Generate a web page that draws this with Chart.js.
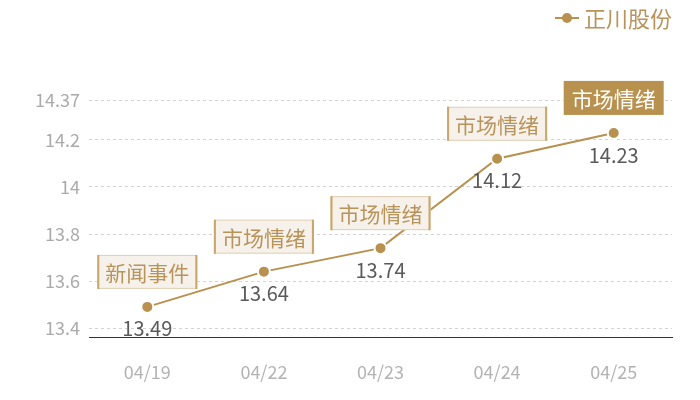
<!DOCTYPE html>
<html>
<head>
<meta charset="utf-8">
<script src="https://cdn.jsdelivr.net/npm/chart.js@4/dist/chart.umd.min.js"></script>
<style>
  html, body { margin: 0; padding: 0; background: #fff; }
  #wrap { width: 700px; height: 400px; }
</style>
</head>
<body>
<div id="wrap"><canvas id="c"></canvas></div>
<script>
const dates = ['04/19', '04/22', '04/23', '04/24', '04/25'];
const prices = [13.49, 13.64, 13.74, 14.12, 14.23];
const tags = ['新闻事件', '市场情绪', '市场情绪', '市场情绪', '市场情绪'];
const yTicks = [13.4, 13.6, 13.8, 14, 14.2, 14.37];
const seriesName = '正川股份';

const gold = '#b8914f';
const cjk = '"Noto Sans CJK SC", "Noto Sans", sans-serif';

// value labels under points, tag boxes above them
const markPlugin = {
    id: 'marks',
    afterDatasetsDraw(chart) {
        const ctx = chart.ctx;
        const pts = chart.getDatasetMeta(0).data;
        ctx.save();
        pts.forEach((p, i) => {
            ctx.font = '20px ' + cjk;
            ctx.fillStyle = '#5a5a5a';
            ctx.textAlign = 'center';
            ctx.textBaseline = 'middle';
            ctx.fillText(String(prices[i]), p.x, p.y + 22);

            ctx.font = '21px ' + cjk;
            const w = ctx.measureText(tags[i]).width + 16;
            const h = 34;
            const bx = p.x - w / 2, by = p.y - 18 - h;
            const last = i === pts.length - 1;
            ctx.fillStyle = last ? gold : '#f6f1ea';
            ctx.fillRect(bx, by, w, h);
            if (!last) {
                ctx.strokeStyle = '#e0cfb2';
                ctx.lineWidth = 1;
                ctx.strokeRect(bx + 0.5, by + 0.5, w - 1, h - 1);
                ctx.strokeStyle = '#c9a66b';
                ctx.lineWidth = 2;
                ctx.beginPath();
                ctx.moveTo(bx + 1, by); ctx.lineTo(bx + 1, by + h);
                ctx.moveTo(bx + w - 1, by); ctx.lineTo(bx + w - 1, by + h);
                ctx.stroke();
            }
            ctx.fillStyle = last ? '#ffffff' : '#b8935a';
            ctx.fillText(tags[i], p.x, by + h / 2 + 1);
        });

        // legend, top right
        ctx.font = '22px ' + cjk;
        ctx.textAlign = 'right';
        ctx.fillStyle = '#b8935a';
        ctx.fillText(chart.data.datasets[0].label, 672, 19);
        const tw = ctx.measureText(chart.data.datasets[0].label).width;
        const lx = 672 - tw - 17;
        ctx.strokeStyle = gold;
        ctx.lineWidth = 2;
        ctx.beginPath();
        ctx.moveTo(lx - 12, 18); ctx.lineTo(lx + 12, 18);
        ctx.stroke();
        ctx.fillStyle = gold;
        ctx.beginPath();
        ctx.arc(lx, 18, 5, 0, Math.PI * 2);
        ctx.fill();
        ctx.restore();
    }
};

new Chart(document.getElementById('c'), {
    type: 'line',
    data: {
        labels: dates,
        datasets: [{
            label: seriesName,
            data: prices,
            borderColor: gold,
            borderWidth: 2,
            backgroundColor: gold,
            pointBackgroundColor: gold,
            pointBorderColor: '#ffffff',
            pointBorderWidth: 2,
            pointRadius: 6,
            tension: 0,
            fill: false
        }]
    },
    options: {
        responsive: true,
        maintainAspectRatio: false,
        animation: false,
        layout: { padding: { top: 100, right: 28, left: 0, bottom: 0 } },
        plugins: { legend: { display: false }, tooltip: { enabled: false } },
        scales: {
            x: {
                offset: true,
                afterFit: s => { s.height = 63; },
                grid: { color: 'transparent', drawTicks: false },
                border: { display: true, color: '#333333', width: 1 },
                ticks: { color: '#b3b3b3', font: { size: 18, family: cjk }, padding: 24 }
            },
            y: {
                min: 13.362,
                max: 14.37,
                afterBuildTicks: s => { s.ticks = yTicks.map(v => ({ value: v })); },
                afterFit: s => { s.width = 89; },
                grid: { color: '#d3d3d3', drawTicks: false },
                border: { display: false, dash: [3, 3] },
                ticks: {
                    color: '#aaaaaa',
                    font: { size: 18, family: cjk },
                    padding: 9,
                    callback: v => String(v)
                }
            }
        }
    },
    plugins: [markPlugin]
});
</script>
</body>
</html>
